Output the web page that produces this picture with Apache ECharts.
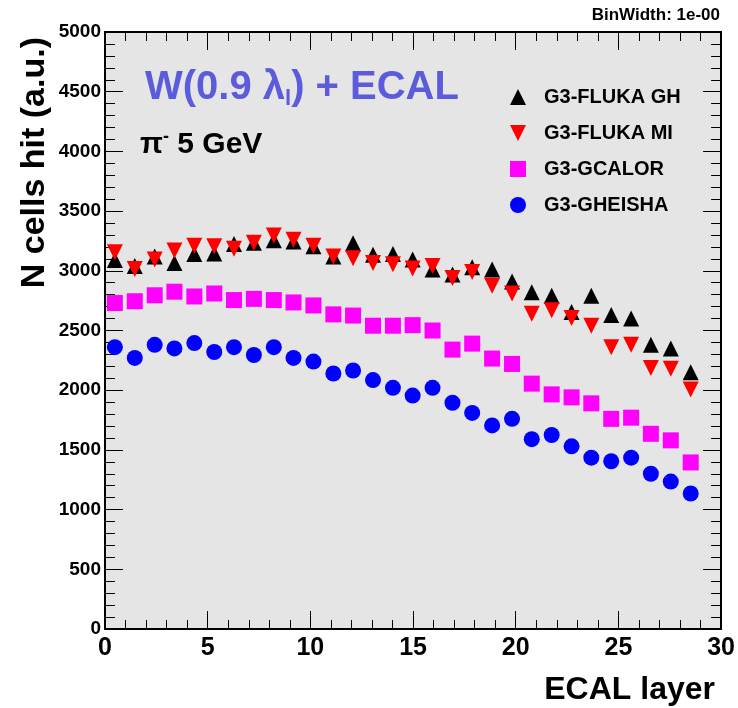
<!DOCTYPE html>
<html>
<head>
<meta charset="utf-8">
<script src="https://cdn.jsdelivr.net/npm/echarts@6/dist/echarts.min.js"></script>
<style>
  html, body { margin: 0; padding: 0; background: #fff; }
  #chart { width: 738px; height: 708px; }
</style>
</head>
<body>
<div id="chart"></div>
<script>
// x position of each layer point (as drawn in the plot)
const layerX = [0.48, 1.45, 2.42, 3.38, 4.35, 5.32, 6.28, 7.25, 8.22, 9.18,
  10.15, 11.12, 12.08, 13.05, 14.02, 14.98, 15.95, 16.92, 17.88, 18.85,
  19.82, 20.78, 21.75, 22.72, 23.68, 24.65, 25.62, 26.58, 27.55, 28.52];

// N cells hit per layer
const flukaGH = [3090, 3040, 3120, 3065, 3140, 3145, 3225, 3235, 3255, 3245,
  3205, 3120, 3230, 3135, 3140, 3095, 3010, 2970, 3030, 3010,
  2910, 2820, 2790, 2655, 2790, 2630, 2600, 2380, 2350, 2150];
const flukaMI = [3155, 3015, 3095, 3170, 3210, 3205, 3185, 3235, 3295, 3260,
  3210, 3120, 3105, 3065, 3055, 3020, 3040, 2940, 2990, 2875,
  2810, 2640, 2670, 2605, 2540, 2360, 2380, 2185, 2180, 2005];
const gcalor = [2730, 2745, 2795, 2825, 2785, 2810, 2755, 2765, 2755, 2735,
  2710, 2635, 2625, 2540, 2540, 2545, 2500, 2340, 2390, 2265,
  2220, 2055, 1965, 1940, 1890, 1760, 1770, 1635, 1580, 1395];
const gheisha = [2360, 2270, 2380, 2350, 2395, 2320, 2360, 2295, 2360, 2270,
  2240, 2140, 2165, 2085, 2020, 1955, 2020, 1895, 1810, 1705,
  1760, 1590, 1625, 1530, 1435, 1405, 1435, 1300, 1235, 1135];

const seriesNames = ['G3-FLUKA GH', 'G3-FLUKA MI', 'G3-GCALOR', 'G3-GHEISHA'];

const FONT = '"Liberation Sans", Arial, Helvetica, sans-serif';

function pts (ys) {
  return layerX.map((x, i) => [x, ys[i]]);
}

// frame axes: ticks inside on all four sides, like the ROOT canvas
function xAx (pos, labels) {
  return {
    type: 'value', position: pos, min: 0, max: 30, interval: 5,
    axisLine: { show: true, onZero: false, lineStyle: { color: '#000', width: 2 } },
    axisTick: { show: true, inside: true, length: 18, lineStyle: { color: '#000', width: 1 } },
    minorTick: { show: true, splitNumber: 5, length: 9, lineStyle: { color: '#000', width: 1 } },
    splitLine: { show: false },
    axisLabel: {
      show: labels, margin: 7, color: '#000', fontFamily: FONT,
      fontSize: 25, fontWeight: 'bold'
    }
  };
}
function yAx (pos, labels) {
  return {
    type: 'value', position: pos, min: 0, max: 5000, interval: 500,
    axisLine: { show: true, onZero: false, lineStyle: { color: '#000', width: 2 } },
    axisTick: { show: true, inside: true, length: 18, lineStyle: { color: '#000', width: 1 } },
    minorTick: { show: true, splitNumber: 5, length: 10, lineStyle: { color: '#000', width: 1 } },
    splitLine: { show: false },
    axisLabel: {
      show: labels, margin: 4, color: '#000', fontFamily: FONT,
      fontSize: 19, fontWeight: 'bold',
      formatter: (v) => String(v)
    }
  };
}

const downTriangle = 'path://M0,0 L10,0 L5,10 Z';

const option = {
  animation: false,
  backgroundColor: '#fff',
  grid: {
    left: 105, right: 16, top: 32, bottom: 79,
    show: true, backgroundColor: '#e5e5e5', borderWidth: 0
  },
  xAxis: [xAx('bottom', true), xAx('top', false)],
  yAxis: [yAx('left', true), yAx('right', false)],
  legend: {
    orient: 'vertical', left: 505, top: 82,
    itemWidth: 16, itemHeight: 16, itemGap: 16,
    data: seriesNames,
    textStyle: {
      color: '#000', fontFamily: FONT, fontSize: 20, fontWeight: 'bold',
      padding: [0, 0, 0, 13]
    }
  },
  series: [
    {
      name: seriesNames[0], type: 'scatter', symbol: 'triangle', symbolSize: 16,
      itemStyle: { color: '#000', opacity: 1 }, data: pts(flukaGH)
    },
    {
      name: seriesNames[1], type: 'scatter', symbol: downTriangle, symbolSize: 16,
      itemStyle: { color: '#ff0000', opacity: 1 }, data: pts(flukaMI)
    },
    {
      name: seriesNames[2], type: 'scatter', symbol: 'rect', symbolSize: 16,
      itemStyle: { color: '#ff00ff', opacity: 1 }, data: pts(gcalor)
    },
    {
      name: seriesNames[3], type: 'scatter', symbol: 'circle', symbolSize: 16,
      itemStyle: { color: '#0000ff', opacity: 1 }, data: pts(gheisha)
    }
  ],
  graphic: [
    {
      type: 'text', x: 720, y: 15,
      style: {
        text: 'BinWidth: 1e-00', fill: '#000', font: 'bold 17px ' + FONT,
        align: 'right', verticalAlign: 'middle', textAlign: 'right', textVerticalAlign: 'middle'
      }
    },
    {
      type: 'text', x: 715, y: 690,
      style: {
        text: 'ECAL layer', fill: '#000', font: 'bold 32px ' + FONT,
        align: 'right', verticalAlign: 'middle', textAlign: 'right', textVerticalAlign: 'middle'
      }
    },
    {
      type: 'text', x: 35, y: 37, rotation: Math.PI / 2,
      style: {
        text: 'N cells hit (a.u.)', fill: '#000', font: 'bold 34px ' + FONT,
        align: 'right', verticalAlign: 'middle', textAlign: 'right', textVerticalAlign: 'middle'
      }
    },
    {
      type: 'text', x: 145, y: 88,
      style: {
        text: '{a|W(0.9 λ}{s|l}{a|) + ECAL}',
        fill: '#5b5bdc',
        verticalAlign: 'middle', textVerticalAlign: 'middle',
        rich: {
          a: { fill: '#5b5bdc', fontFamily: FONT, fontSize: 40, fontWeight: 'bold', lineHeight: 44 },
          s: { fill: '#5b5bdc', fontFamily: FONT, fontSize: 22, fontWeight: 'bold', lineHeight: 44, padding: [22, 0, 0, 0] }
        }
      }
    },
    {
      type: 'text', x: 140, y: 145,
      style: {
        text: '{a|π}{s|-}{a| 5 GeV}',
        fill: '#000',
        verticalAlign: 'middle', textVerticalAlign: 'middle',
        rich: {
          a: { fill: '#000', fontFamily: FONT, fontSize: 30, fontWeight: 'bold', lineHeight: 34 },
          s: { fill: '#000', fontFamily: FONT, fontSize: 18, fontWeight: 'bold', lineHeight: 34, padding: [0, 0, 16, 0] }
        }
      }
    }
  ]
};

const myChart = echarts.init(document.getElementById('chart'));
myChart.setOption(option);
window.addEventListener('resize', () => {
  myChart.resize();
});
</script>
</body>
</html>
